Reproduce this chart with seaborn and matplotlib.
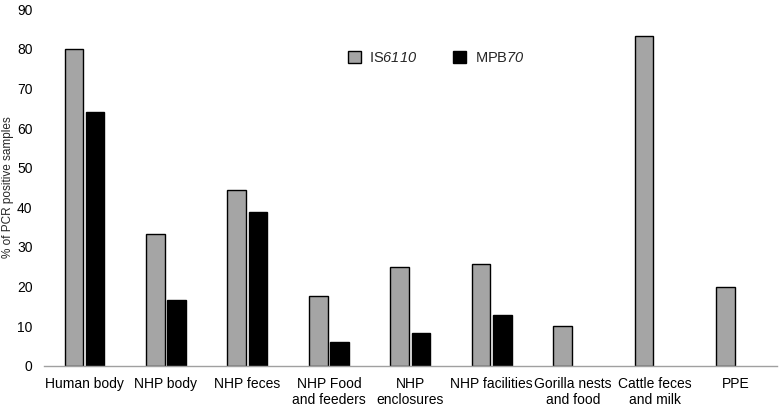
import matplotlib
matplotlib.use("Agg")
import matplotlib.pyplot as plt
from matplotlib.patches import Patch
import seaborn as sns
import pandas as pd

categories = ["Human body", "NHP body", "NHP feces", "NHP Food\nand feeders", "NHP\nenclosures",
              "NHP facilities", "Gorilla nests\nand food", "Cattle feces\nand milk", "PPE"]
is6110 = [80, 33.3, 44.4, 17.6, 25, 25.8, 10, 83.3, 20]
mpb70 = [64, 16.7, 38.9, 5.9, 8.3, 12.9, 0, 0, 0]
series_names = [r"IS$\mathsf{6110}$", r"MPB$\mathsf{70}$"]
colors = ["#A5A5A5", "#000000"]
yticks = list(range(0, 91, 10))

df = pd.DataFrame({
    "category": categories * 2,
    "value": is6110 + mpb70,
    "series": [series_names[0]] * len(categories) + [series_names[1]] * len(categories),
})

sns.set_theme(style="white")
plt.rcParams["font.family"] = ["Liberation Sans", "DejaVu Sans"]
plt.rcParams["mathtext.fontset"] = "custom"
plt.rcParams["mathtext.sf"] = "Liberation Sans:italic"
plt.rcParams["mathtext.it"] = "Liberation Sans:italic"
plt.rcParams["mathtext.rm"] = "Liberation Sans"

fig = plt.figure(figsize=(7.8, 4.07), dpi=100)
ax = fig.add_axes([0.056, 0.1015, 0.94, 0.8755])
sns.barplot(data=df, x="category", y="value", hue="series",
            palette=colors, width=0.52, gap=0.12,
            edgecolor="black", linewidth=1.0, ax=ax, errorbar=None, legend=False)

for p in ax.patches:
    if p.get_height() == 0:
        p.set_visible(False)

ax.set_ylim(0, 90)
ax.set_yticks(yticks)
ax.set_xlim(-0.5, len(categories) - 0.5)
ax.set_xlabel("")
ax.set_ylabel("% of PCR positive samples", fontsize=8.5)
ax.yaxis.set_label_coords(-0.041, 0.5)
ax.tick_params(axis="both", length=0, labelsize=10, colors="black")
ax.tick_params(axis="y", pad=8)
ax.tick_params(axis="x", pad=8)
for s in ["top", "right", "left"]:
    ax.spines[s].set_visible(False)
ax.spines["bottom"].set_color("#A0A0A0")
ax.spines["bottom"].set_linewidth(1.0)

handles = [Patch(facecolor=c, edgecolor="black", linewidth=1.0, label=n)
           for c, n in zip(colors, series_names)]
ax.legend(handles=handles, loc="upper center", bbox_to_anchor=(0.535, 0.92), ncol=2,
          frameon=False, fontsize=10.5, handlelength=0.9, handleheight=0.9,
          columnspacing=2.4, handletextpad=0.6)

fig.savefig("out.png", dpi=100)
